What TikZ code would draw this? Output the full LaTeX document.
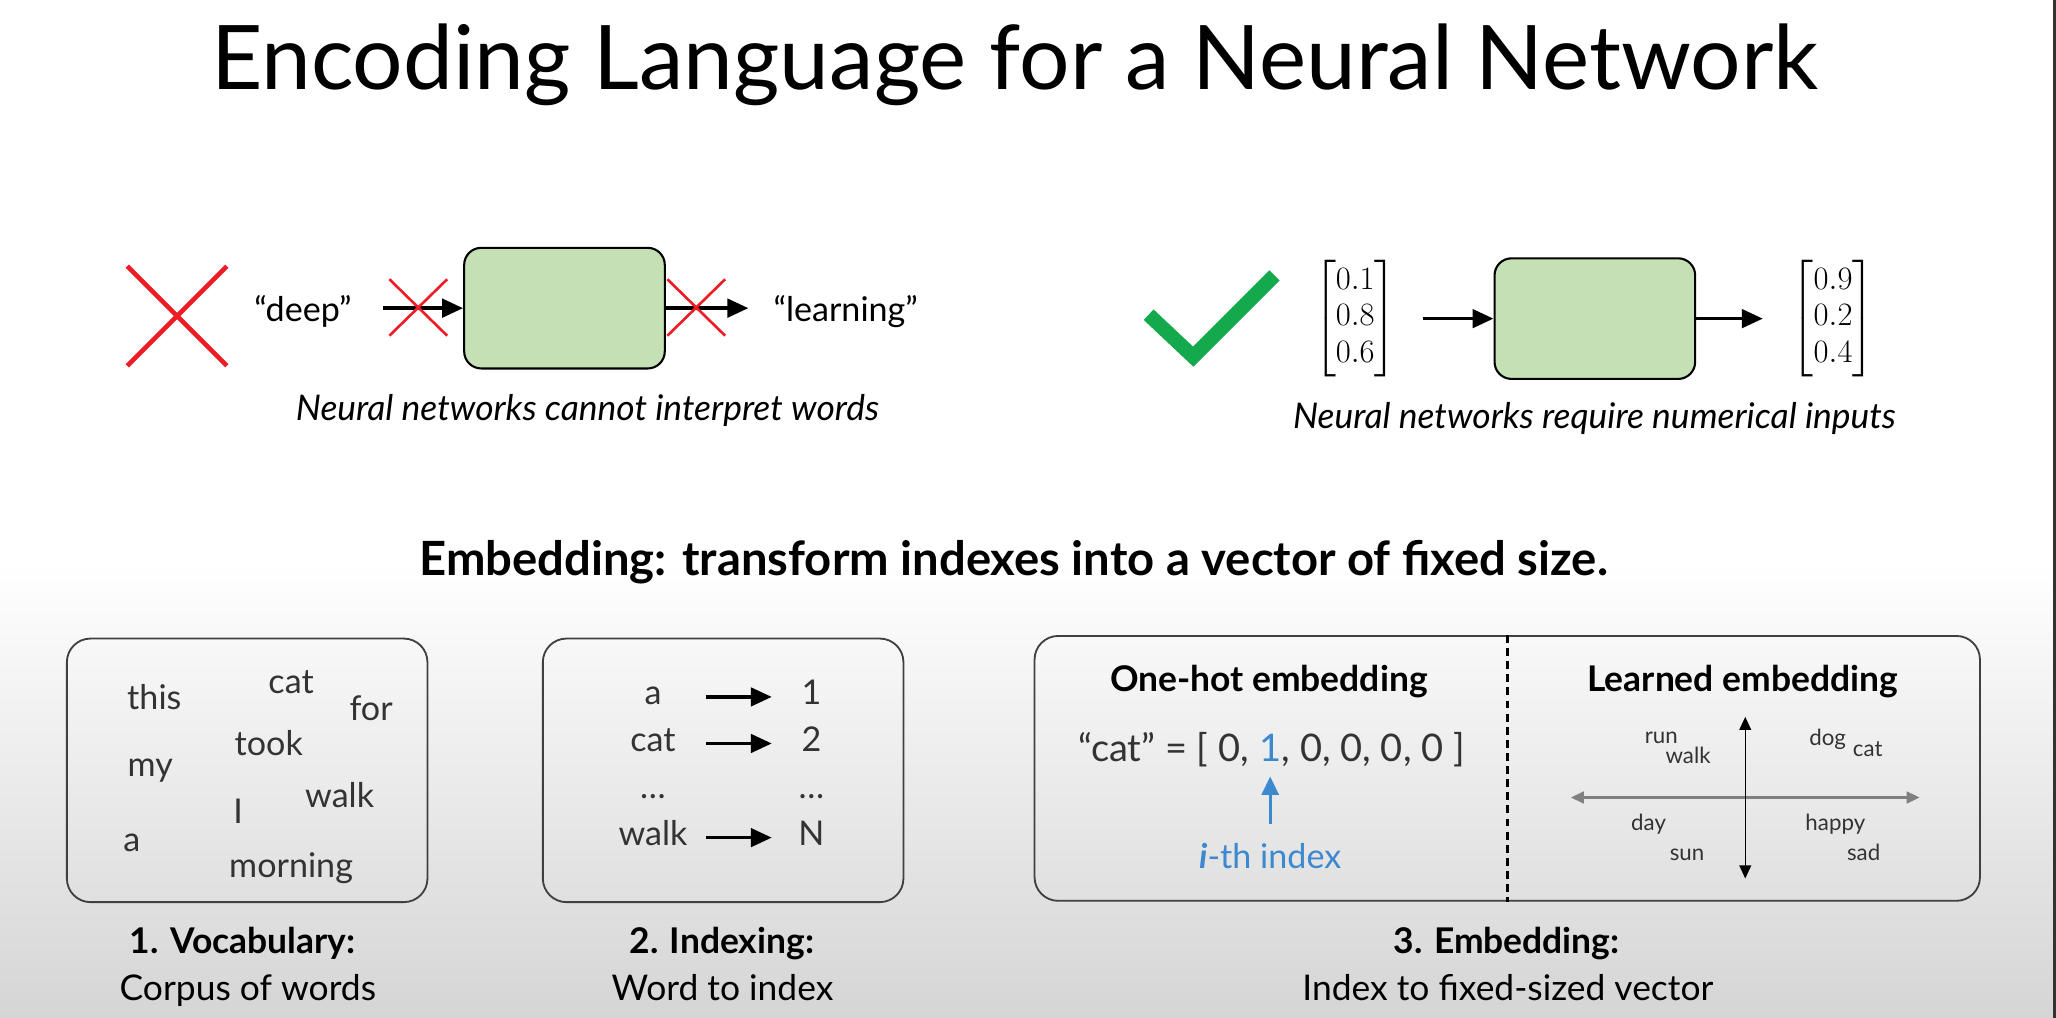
\documentclass[tikz,border=0pt]{standalone}
\usepackage{amsmath}
\usepackage[no-math]{fontspec}
\setmainfont{Lato}
\usepackage{tikz}
\usetikzlibrary{arrows.meta, positioning}
\definecolor{nnGreen}{HTML}{C5E0B4}
\definecolor{crossRed}{HTML}{EE1C25}
\definecolor{tickGreen}{HTML}{14A94C}
\definecolor{idxBlue}{HTML}{3D89D0}
\definecolor{inkGray}{HTML}{333333}
\definecolor{slideGray}{HTML}{D5D5D5}

\begin{document}
\begin{tikzpicture}[x=1pt, y=-1pt,
    wordtxt/.style={anchor=base, inner sep=0pt, text=inkGray, font=\fontsize{26}{31}\selectfont},
    smallword/.style={wordtxt, font=\fontsize{17}{20}\selectfont},
    idxword/.style={wordtxt, text height=18pt, text depth=6pt},
    headtxt/.style={anchor=base, inner sep=0pt, font=\fontsize{27}{32}\selectfont\bfseries},
    subtxt/.style={anchor=base, inner sep=0pt, font=\fontsize{27}{32}\selectfont},
    capt/.style={anchor=base, inner sep=0pt, font=\fontsize{27}{32}\selectfont\itshape},
    nnbox/.style={draw=black, line width=1.6pt, fill=nnGreen, rounded corners=13pt,
        minimum width=153pt, minimum height=92pt, inner sep=0pt},
    panel/.style={draw=black!75, line width=1.4pt, rounded corners=18pt, inner sep=0pt},
    flow/.style={-{Triangle[length=16pt, width=14pt]}, line width=2.8pt},
    crossline/.style={crossRed, line width=2pt},
    vecnum/.style={inner sep=0pt, font=\fontsize{24}{28}\selectfont},
    axisline/.style={{Triangle[length=10pt, width=9pt]}-{Triangle[length=10pt, width=9pt]}},
]
    \useasboundingbox (0,0) rectangle (1568,776);
    % slide background
    \fill[white] (0,0) rectangle (1568,776);
    \shade[top color=white, bottom color=slideGray] (0,430) rectangle (1568,776);
    \fill[black!80] (1565.7,0) rectangle (1568,776);

    \node[anchor=base, inner sep=0pt, font=\fontsize{68}{80}\selectfont] (title) at (774,68.6)
        {Encoding Language for a Neural Network};

    % words do not work
    \draw[crossRed, line width=3.5pt] (97,203) -- (173,279) (97,279) -- (173,203);
    \node[wordtxt, text=black] (deep) at (231,245.4) {“deep”};
    \node[nnbox] (nnA) at (430.5,235) {};
    \node[wordtxt, text=black] (learn) at (645,245.4) {“learning”};
    \draw[flow, shorten <=24pt] (deep.east |- nnA.west) -- (nnA.west);
    \draw[flow, shorten >=19pt] (nnA.east) -- (learn.west |- nnA.east);
    \foreach \c in {319,531}
        \draw[crossline] (\c-22,213) -- (\c+22,256) (\c-22,256) -- (\c+22,213);
    \node[capt] (capA) at (448,321) {Neural networks cannot interpret words};

    % numbers work
    \draw[tickGreen, line width=11pt, line join=miter] (876,240) -- (910,272) -- (972,210);
    \node[vecnum] (vecIn) at (1033.6,243) {$\begin{bmatrix}0.1\\0.8\\0.6\end{bmatrix}$};
    \node[nnbox] (nnB) at (1216.3,243) {};
    \node[vecnum] (vecOut) at (1398,243) {$\begin{bmatrix}0.9\\0.2\\0.4\end{bmatrix}$};
    \draw[flow, shorten <=20pt] (vecIn) -- (nnB);
    \draw[flow, shorten >=22pt] (nnB) -- (vecOut);
    \node[capt] (capB) at (1216,327) {Neural networks require numerical inputs};

    \node[anchor=base, inner sep=0pt, font=\fontsize{36}{42}\selectfont\bfseries] (embline) at (773,438.6)
        {Embedding: transform indexes into a vector of fixed size.};

    % 1. vocabulary
    \node[panel, minimum width=275pt, minimum height=201pt] (vocab) at (188.5,587.5) {};
    \node[wordtxt] (wThis) at (117.7,541.3) {this};
    \node[wordtxt] (wCat) at (222,528.6) {cat};
    \node[wordtxt] (wFor) at (283,549.7) {for};
    \node[wordtxt] (wTook) at (205,576) {took};
    \node[wordtxt] (wMy) at (114.6,592.2) {my};
    \node[wordtxt] (wWalk) at (259,615.8) {walk};
    \node[wordtxt] (wI) at (181.7,627.8) {I};
    \node[wordtxt] (wA) at (100.5,649.4) {a};
    \node[wordtxt] (wMorning) at (222,669.2) {morning};
    \node[headtxt] (vocabHead) at (185,727) {1. Vocabulary:};
    \node[subtxt] (vocabSub) at (189,762.8) {Corpus of words};

    % 2. indexing
    \node[panel, minimum width=275pt, minimum height=201pt] (index) at (551.5,587.5) {};
    \node[idxword, minimum width=81pt] (kA) at (498,537.5) {a};
    \node[idxword, minimum width=60pt] (vA) at (618.8,537.5) {1};
    \node[idxword, minimum width=81pt] (kCat) at (498,573) {cat};
    \node[idxword, minimum width=60pt] (vCat) at (618.8,573) {2};
    \node[idxword, minimum width=81pt] (kDots) at (498,608.7) {\dots};
    \node[idxword, minimum width=60pt] (vDots) at (618.8,608.7) {\dots};
    \node[idxword, minimum width=81pt] (kWalk) at (498,644.8) {walk};
    \node[idxword, minimum width=60pt] (vWalk) at (618.8,644.8) {N};
    \foreach \k/\v in {kA/vA, kCat/vCat, kWalk/vWalk}
        \draw[flow] (\k) -- (\v);
    \node[headtxt] (indexHead) at (550.5,727) {2. Indexing:};
    \node[subtxt] (indexSub) at (551,762.8) {Word to index};

    % 3. embedding
    \node[panel, minimum width=721pt, minimum height=202pt] (embed) at (1149.5,586) {};
    \draw[line width=2pt, dash pattern=on 6pt off 4pt] (embed.north) -- (embed.south);
    \node[headtxt] (oneHead) at (967.7,527.6) {One-hot embedding};
    \node[headtxt] (learnHead) at (1329,527.6) {Learned embedding};
    \node[wordtxt, font=\fontsize{29}{35}\selectfont, text=idxBlue] (one) at (968.7,581) {1};
    \node[wordtxt, font=\fontsize{29}{35}\selectfont, anchor=base east] (vecL) at (one.base west)
        {“cat” = [ 0,\ \null};
    \node[wordtxt, font=\fontsize{29}{35}\selectfont, anchor=base west] (vecR) at (one.base east)
        {, 0, 0, 0, 0 ]};
    \node[wordtxt, text=idxBlue] (ith) at (968.7,662) {\textbf{\textit{i}}-th index};
    \draw[idxBlue, line width=2pt, -{Triangle[length=14pt, width=13pt]},
        shorten <=14pt, shorten >=11pt] (ith.north) -- (one.south);

    \coordinate (axW) at (1198,608.2);
    \coordinate (axE) at (1464,608.2);
    \coordinate (axN) at (1331,546.7);
    \coordinate (axS) at (1331,670);
    \draw[axisline, line width=1.8pt, black!50] (axW) -- (axE);
    \draw[axisline, line width=1pt] (axN) -- (axS);
    \node[smallword] (eRun) at (1267,567) {run};
    \node[smallword] (eWalk) at (1287.4,582.3) {walk};
    \node[smallword] (eDog) at (1393.9,568.3) {dog};
    \node[smallword] (eCat) at (1424.4,577.2) {cat};
    \node[smallword] (eDay) at (1257.3,633.1) {day};
    \node[smallword] (eSun) at (1286.6,656) {sun};
    \node[smallword] (eHappy) at (1399.7,633) {happy};
    \node[smallword] (eSad) at (1421.3,656) {sad};
    \node[headtxt] (embedHead) at (1149,727) {3. Embedding:};
    \node[subtxt] (embedSub) at (1150,762.8) {Index to fixed-sized vector};
\end{tikzpicture}
\end{document}
